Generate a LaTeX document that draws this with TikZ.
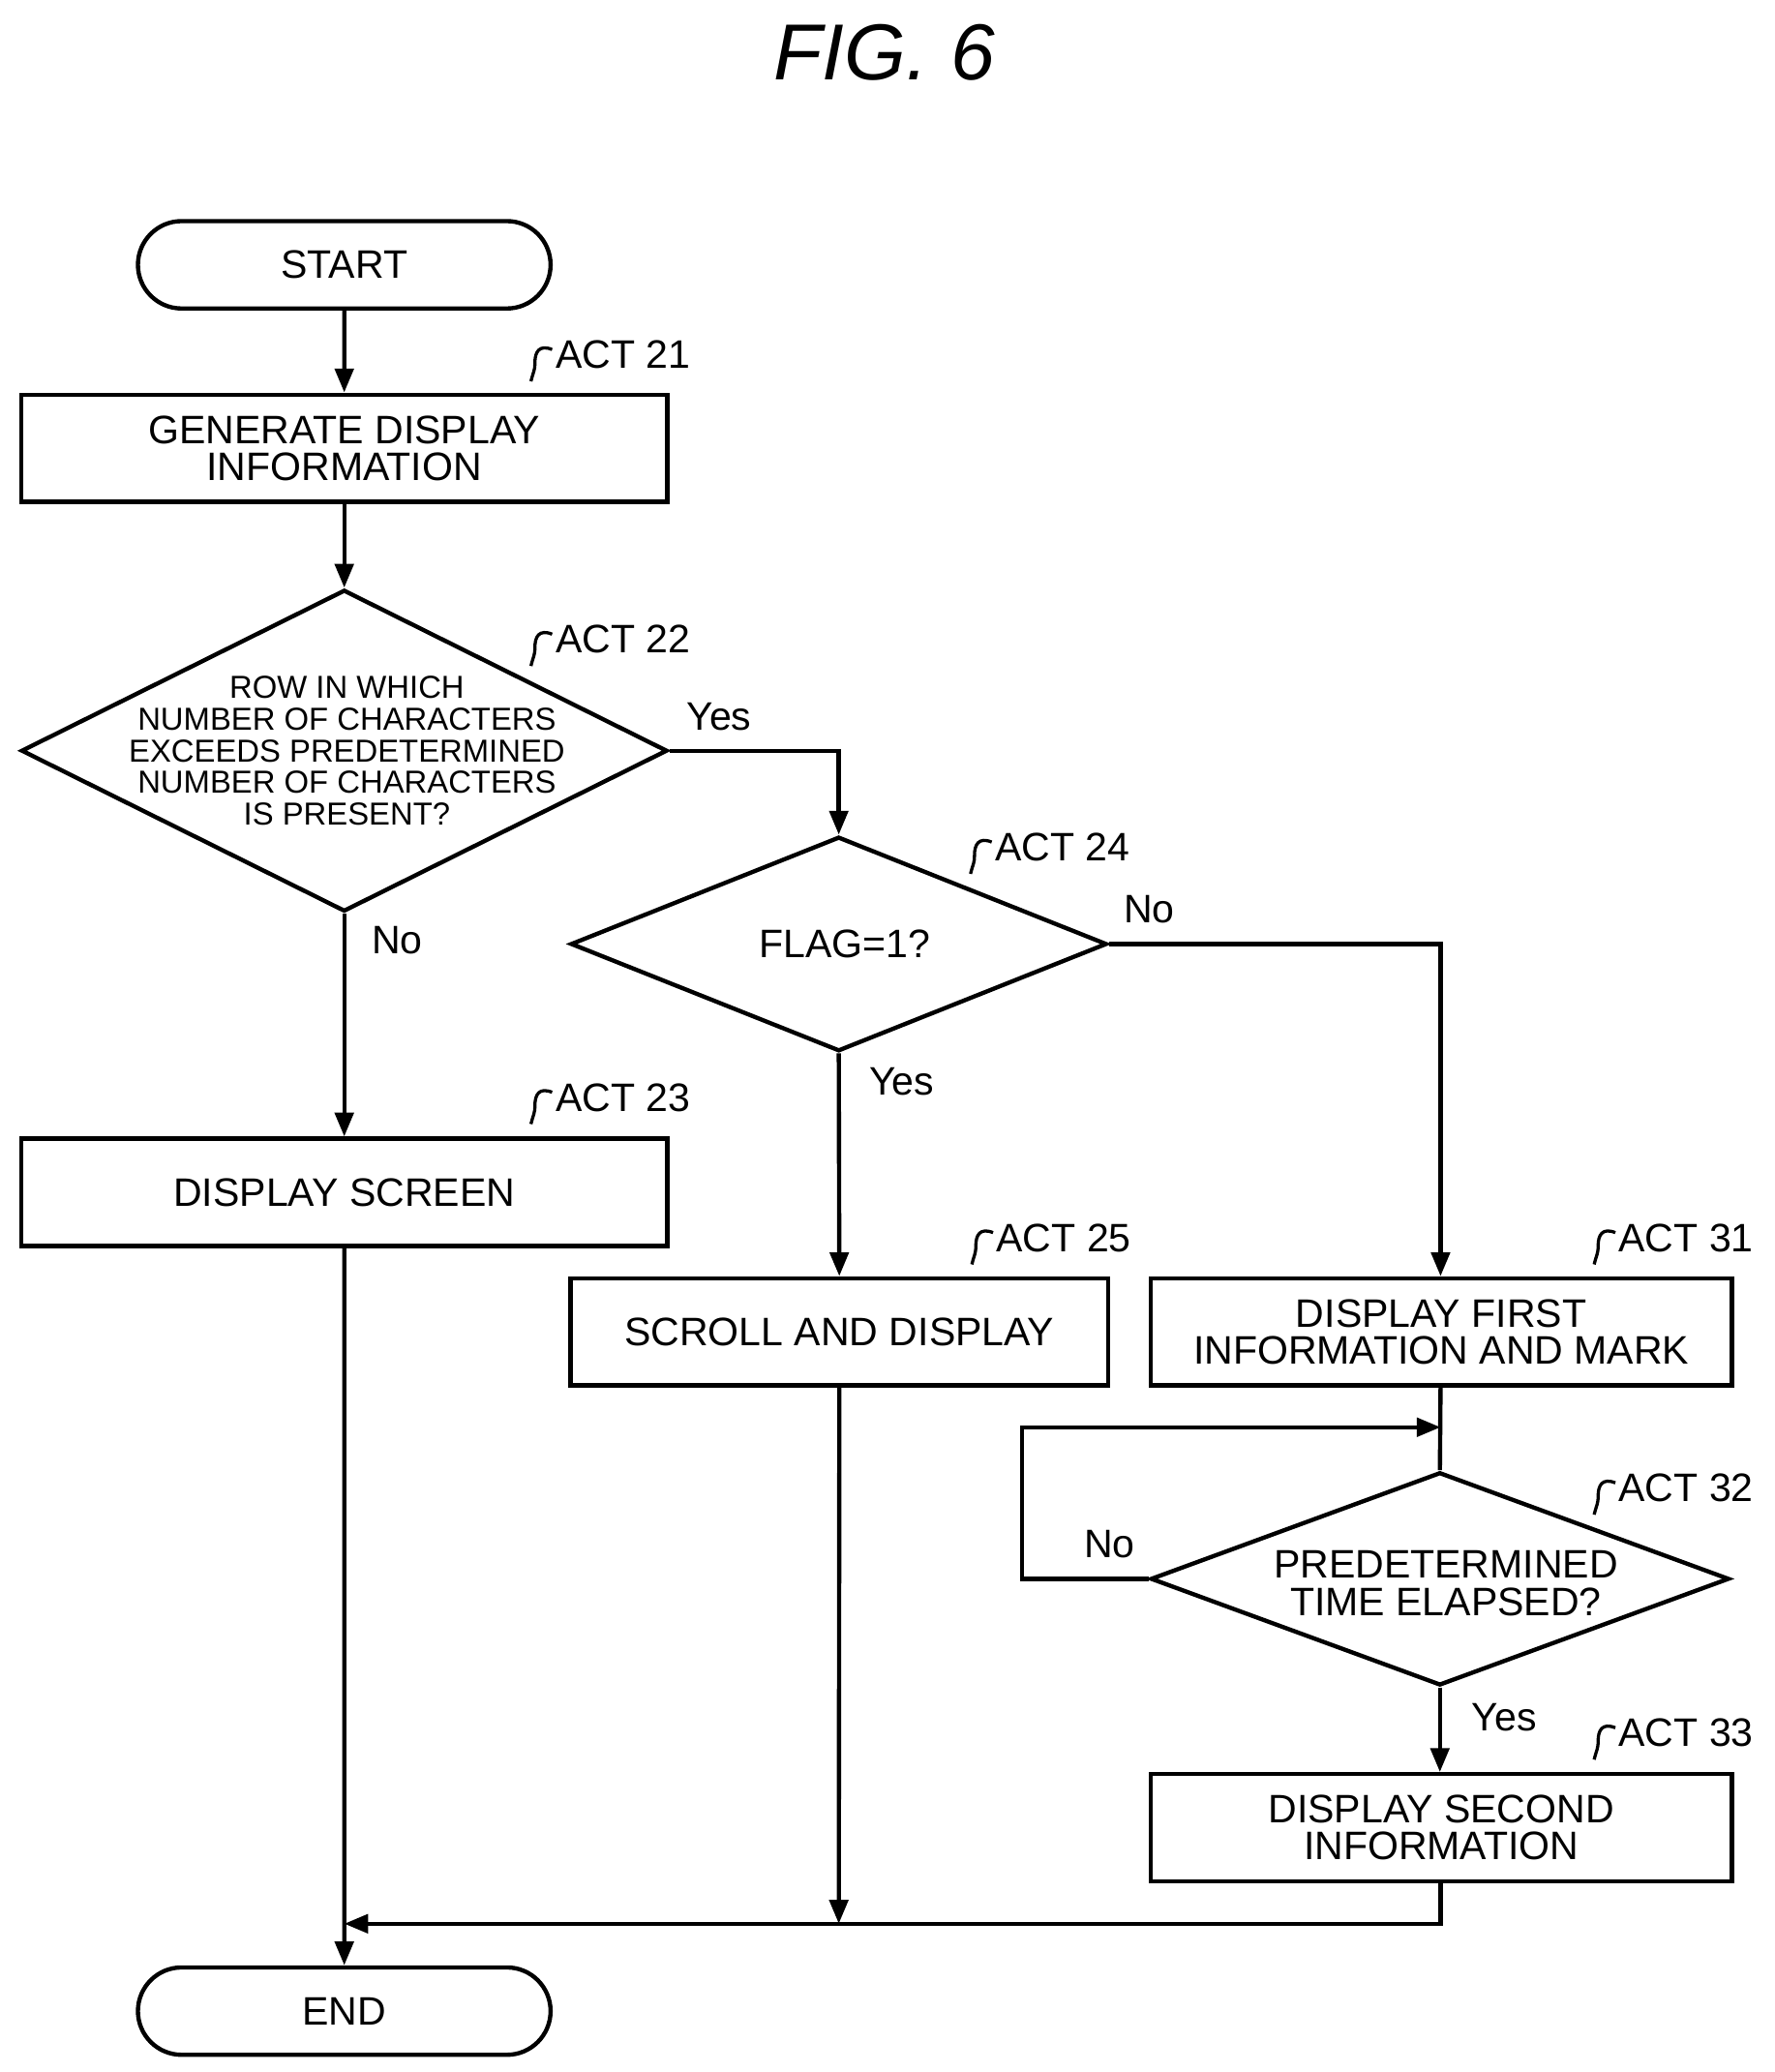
\documentclass[tikz,border=0pt]{standalone}
\usepackage{fontspec}
\setmainfont{Liberation Sans}
\usetikzlibrary{shapes.geometric,shapes.misc,arrows.meta}
\begin{document}
\begin{tikzpicture}[x=0.5pt,y=-0.5pt,
  line width=1.6pt,
  box/.style={draw,rectangle,minimum width=#1,minimum height=40.5pt,align=center,font=\fontsize{15}{17}\selectfont,inner sep=0pt},
  term/.style={draw,rounded rectangle,minimum width=162.5pt,minimum height=33pt,font=\fontsize{15}{17}\selectfont},
  dia/.style={draw,diamond,aspect=#1,align=center,inner sep=0pt},
  lbl/.style={font=\fontsize{15}{17}\selectfont},
  act/.style={font=\fontsize{15}{17}\selectfont,anchor=west,inner sep=0pt},
  arr/.style={-{Triangle[length=9pt,width=7pt]}}]
\useasboundingbox (0,0) rectangle (1340,1565);
\node[font=\itshape\fontsize{30}{34}\selectfont] (title) at (668,40) {FIG. 6};
\node[term] (start) at (260,200) {START};
\node[box=244pt] (a21) at (260,338.5) {GENERATE DISPLAY\\[-3pt]INFORMATION};
\node[dia=2, minimum width=244pt, minimum height=121.5pt] (d22) at (260,567) {};
\node[align=center,font=\fontsize{12}{14}\selectfont] (t22) at (262,567) {ROW IN WHICH\\[-2pt]NUMBER OF CHARACTERS\\[-2pt]EXCEEDS PREDETERMINED\\[-2pt]NUMBER OF CHARACTERS\\[-2pt]IS PRESENT?};
\node[dia=2.5, minimum width=202.5pt, minimum height=81pt] (d24) at (633.5,713) {};
\node[lbl] (t24) at (638,713) {FLAG=1?};
\node[box=244pt] (a23) at (260,900.5) {DISPLAY SCREEN};
\node[box=203pt] (a25) at (634,1006) {SCROLL AND DISPLAY};
\node[box=219.5pt] (a31) at (1088.5,1006) {DISPLAY FIRST\\[-3pt]INFORMATION AND MARK};
\node[dia=2.7, minimum width=218.5pt, minimum height=80.5pt] (d32) at (1087.5,1192.5) {};
\node[align=center,lbl] (t32) at (1092,1196) {PREDETERMINED\\[-3pt]TIME ELAPSED?};
\node[box=219.5pt] (a33) at (1088.5,1380.5) {DISPLAY SECOND\\[-3pt]INFORMATION};
\node[term] (end) at (260,1519) {END};
\foreach \n/\x/\y/\t in {l21/418/268/ACT 21, l22/418/483/ACT 22, l23/418/829/ACT 23, l24/750/640/ACT 24, l25/751/935/ACT 25, l31/1221/935/ACT 31, l32/1221/1124/ACT 32, l33/1221/1309/ACT 33}{
  \node[act] (\n) at (\x,\y) {\t};
  \draw[line width=1.2pt] (\n.west) ++(-1,-4) .. controls ++(-10,-4) and ++(0,-8) .. ++(-13,10) .. controls ++(0,6) and ++(2,-8) .. ++(-3,14);
}
\node[lbl] (y22) at (543,541) {Yes};
\node[lbl] (n22) at (300,710) {No};
\node[lbl] (n24) at (868,687) {No};
\node[lbl] (y24) at (681,817) {Yes};
\node[lbl] (n32) at (838,1166) {No};
\node[lbl] (y32) at (1136,1297) {Yes};
\coordinate (c1) at (633.5,567);
\coordinate (c2) at (1088,713);
\coordinate (c3) at (772,1192.5);
\coordinate (c4) at (772,1078);
\coordinate (c5) at (1088,1078);
\coordinate (c6) at (1088,1453);
\coordinate (c7) at (633.5,1453);
\coordinate (c8) at (260,1453);
\draw[arr] (start) -- (a21);
\draw[arr] (a21) -- (d22.north);
\draw[arr] (d22.east) -- (c1) -- (d24.north);
\draw[arr] (d22.south) -- (a23);
\draw[arr] (d24.south) -- (a25);
\draw[arr] (d24.east) -- (c2) -- (a31.north -| c2);
\draw (a31.south -| c5) -- (d32.north);
\draw[arr] (d32.west) -- (c3) -- (c4) -- (c5);
\draw[arr] (d32.south) -- (a33.north -| d32.south);
\draw[arr] (a33.south -| c6) -- (c6) -- (c8);
\draw[arr] (a25) -- (c7);
\draw[arr] (a23) -- (end);
\end{tikzpicture}
\end{document}
